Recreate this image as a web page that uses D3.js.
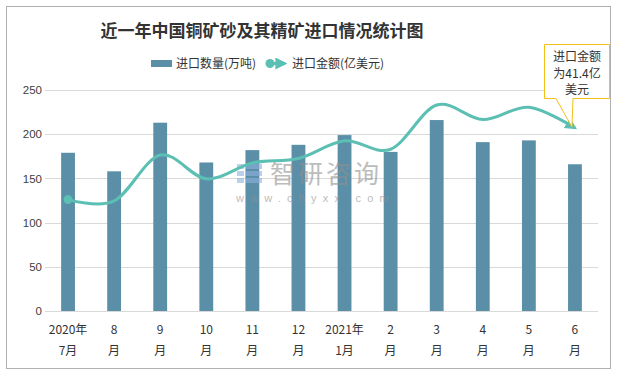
<!DOCTYPE html>
<html>
<head>
<meta charset="utf-8">
<script src="https://cdn.jsdelivr.net/npm/d3@7"></script>
<style>
  body { margin: 0; background: #fff; }
  text { font-family: "Noto Sans CJK SC", "Microsoft YaHei", sans-serif; }
</style>
</head>
<body>
<div id="chart"></div>
<script>
"use strict"

// categories (two-line labels)
let monthsTop = ["2020年", "8", "9", "10", "11", "12", "2021年", "2", "3", "4", "5", "6"];
let monthsBottom = ["7月", "月", "月", "月", "月", "月", "1月", "月", "月", "月", "月", "月"];
// import volume, 万吨
let volume = [179, 158, 213, 168, 182, 188, 199, 180, 216, 191, 193, 166];
// import value, 亿美元 (secondary axis, hidden)
let amount = [25.2, 24.9, 35.3, 29.9, 33.5, 34.5, 38.5, 36.6, 46.6, 43.3, 46.1, 41.4];
let yTicks = [0, 50, 100, 150, 200, 250];

let width = 617, height = 371;
let margin = {left: 45, right: 19, top: 90, bottom: 60};

let svg = d3.select("#chart").append("svg")
            .attr("width", width)
            .attr("height", height);

svg.append("rect")
   .attr("x", 6.5).attr("y", 6.5)
   .attr("width", 604).attr("height", 362)
   .attr("fill", "#fff")
   .attr("stroke", "#b0b0b0");

let x = d3.scaleBand()
          .domain(monthsTop.map((d, i) => i))
          .range([margin.left, width - margin.right])
          .paddingInner(0.7)
          .paddingOuter(0.35);

let y = d3.scaleLinear()
          .domain([0, 250])
          .range([311, 90]);

let y2 = d3.scaleLinear()
           .domain([0, 50])
           .range([311, 90]);

// gridlines
svg.append("g")
   .selectAll("line")
   .data(yTicks)
   .join("line")
   .attr("x1", margin.left).attr("x2", width - margin.right)
   .attr("y1", d => Math.round(y(d)) + 0.5)
   .attr("y2", d => Math.round(y(d)) + 0.5)
   .attr("stroke", "#d9d9d9");

// y axis labels
let yAxis = svg.append("g")
               .attr("transform", "translate(" + 42 + ",0)")
               .call(d3.axisLeft(y).tickValues(yTicks).tickSize(0).tickPadding(0));
yAxis.select(".domain").remove();
yAxis.selectAll("text")
     .attr("font-size", 11.5)
     .attr("fill", "#404040")
     .style("font-family", "'Liberation Sans', Arial, sans-serif");

// bars
svg.append("g")
   .selectAll("rect")
   .data(volume)
   .join("rect")
   .attr("x", (d, i) => x(i))
   .attr("y", d => y(d))
   .attr("width", x.bandwidth())
   .attr("height", d => y(0) - y(d))
   .attr("fill", "#5b8fa8");

// watermark (over the bars)
let wm = svg.append("g").attr("opacity", 0.6);
[[237, 164, 7, 5], [246, 164, 16, 5], [237, 171, 7, 5], [246, 171, 16, 5], [237, 178, 7, 5], [246, 178, 16, 5]]
  .forEach(function(r) {
    wm.append("rect").attr("x", r[0]).attr("y", r[1]).attr("width", r[2]).attr("height", r[3])
      .attr("fill", "#8fb2dc");
  });
wm.append("text")
  .attr("x", 270).attr("y", 183)
  .attr("font-size", 25)
  .attr("letter-spacing", 3)
  .attr("fill", "#909090")
  .text("智研咨询");
wm.append("text")
  .attr("x", 236).attr("y", 202)
  .attr("font-size", 11)
  .attr("letter-spacing", 6.2)
  .attr("fill", "#909090")
  .style("font-family", "'Liberation Sans', Arial, sans-serif")
  .text("www.chyxx.com");

// line
let cx = i => x(i) + x.bandwidth() / 2;
let line = d3.line()
             .x((d, i) => cx(i))
             .y(d => y2(d))
             .curve(d3.curveCardinal.tension(0));

let defs = svg.append("defs");
defs.append("marker")
    .attr("id", "arrow")
    .attr("viewBox", "0 0 10 10")
    .attr("refX", 8).attr("refY", 5)
    .attr("markerWidth", 4).attr("markerHeight", 4)
    .attr("markerUnits", "strokeWidth")
    .attr("orient", "auto")
    .append("path")
    .attr("d", "M0,0 L10,5 L0,10 Z")
    .attr("fill", "#5cbfb3");

svg.append("path")
   .datum(amount)
   .attr("d", line)
   .attr("fill", "none")
   .attr("stroke", "#5cbfb3")
   .attr("stroke-width", 3)
   .attr("marker-end", "url(#arrow)");

svg.append("circle")
   .attr("cx", cx(0))
   .attr("cy", y2(amount[0]))
   .attr("r", 4.5)
   .attr("fill", "#5cbfb3");

// x axis labels
let xl = svg.append("g");
xl.selectAll("text.top")
  .data(monthsTop)
  .join("text")
  .attr("class", "top")
  .attr("x", (d, i) => cx(i))
  .attr("y", 334)
  .attr("text-anchor", "middle")
  .attr("font-size", 12)
  .attr("fill", "#333")
  .text(d => d);
xl.selectAll("text.bot")
  .data(monthsBottom)
  .join("text")
  .attr("class", "bot")
  .attr("x", (d, i) => cx(i))
  .attr("y", 355)
  .attr("text-anchor", "middle")
  .attr("font-size", 12)
  .attr("fill", "#333")
  .text(d => d);

// title
svg.append("text")
   .attr("x", 262).attr("y", 37)
   .attr("text-anchor", "middle")
   .attr("font-size", 17)
   .attr("font-weight", "bold")
   .attr("fill", "#333")
   .text("近一年中国铜矿砂及其精矿进口情况统计图");

// legend
svg.append("rect")
   .attr("x", 151).attr("y", 60)
   .attr("width", 21).attr("height", 7)
   .attr("fill", "#5b8fa8");
svg.append("text")
   .attr("x", 176).attr("y", 68)
   .attr("font-size", 12)
   .attr("fill", "#333")
   .text("进口数量(万吨)");
svg.append("line")
   .attr("x1", 268).attr("x2", 285)
   .attr("y1", 63.5).attr("y2", 63.5)
   .attr("stroke", "#5cbfb3")
   .attr("stroke-width", 3)
   .attr("marker-end", "url(#arrow)");
svg.append("circle")
   .attr("cx", 270).attr("cy", 63.5).attr("r", 4.5)
   .attr("fill", "#5cbfb3");
svg.append("text")
   .attr("x", 292).attr("y", 68)
   .attr("font-size", 12)
   .attr("fill", "#333")
   .text("进口金额(亿美元)");

// callout
let tipX = cx(11) - 3, tipY = y2(amount[11]) - 1;
svg.append("path")
   .attr("d", "M544.5,44.5 H609.5 V98.5 H573 L" + tipX + "," + tipY + " L556,98.5 H544.5 Z")
   .attr("fill", "#fff")
   .attr("stroke", "#f5c016")
   .attr("stroke-width", 1);
let callout = ["进口金额", "为" + amount[11] + "亿", "美元"];
svg.append("g")
   .selectAll("text")
   .data(callout)
   .join("text")
   .attr("x", 577)
   .attr("y", (d, i) => 61 + i * 16.5)
   .attr("text-anchor", "middle")
   .attr("font-size", 12)
   .attr("fill", "#333")
   .text(d => d);
</script>
</body>
</html>
